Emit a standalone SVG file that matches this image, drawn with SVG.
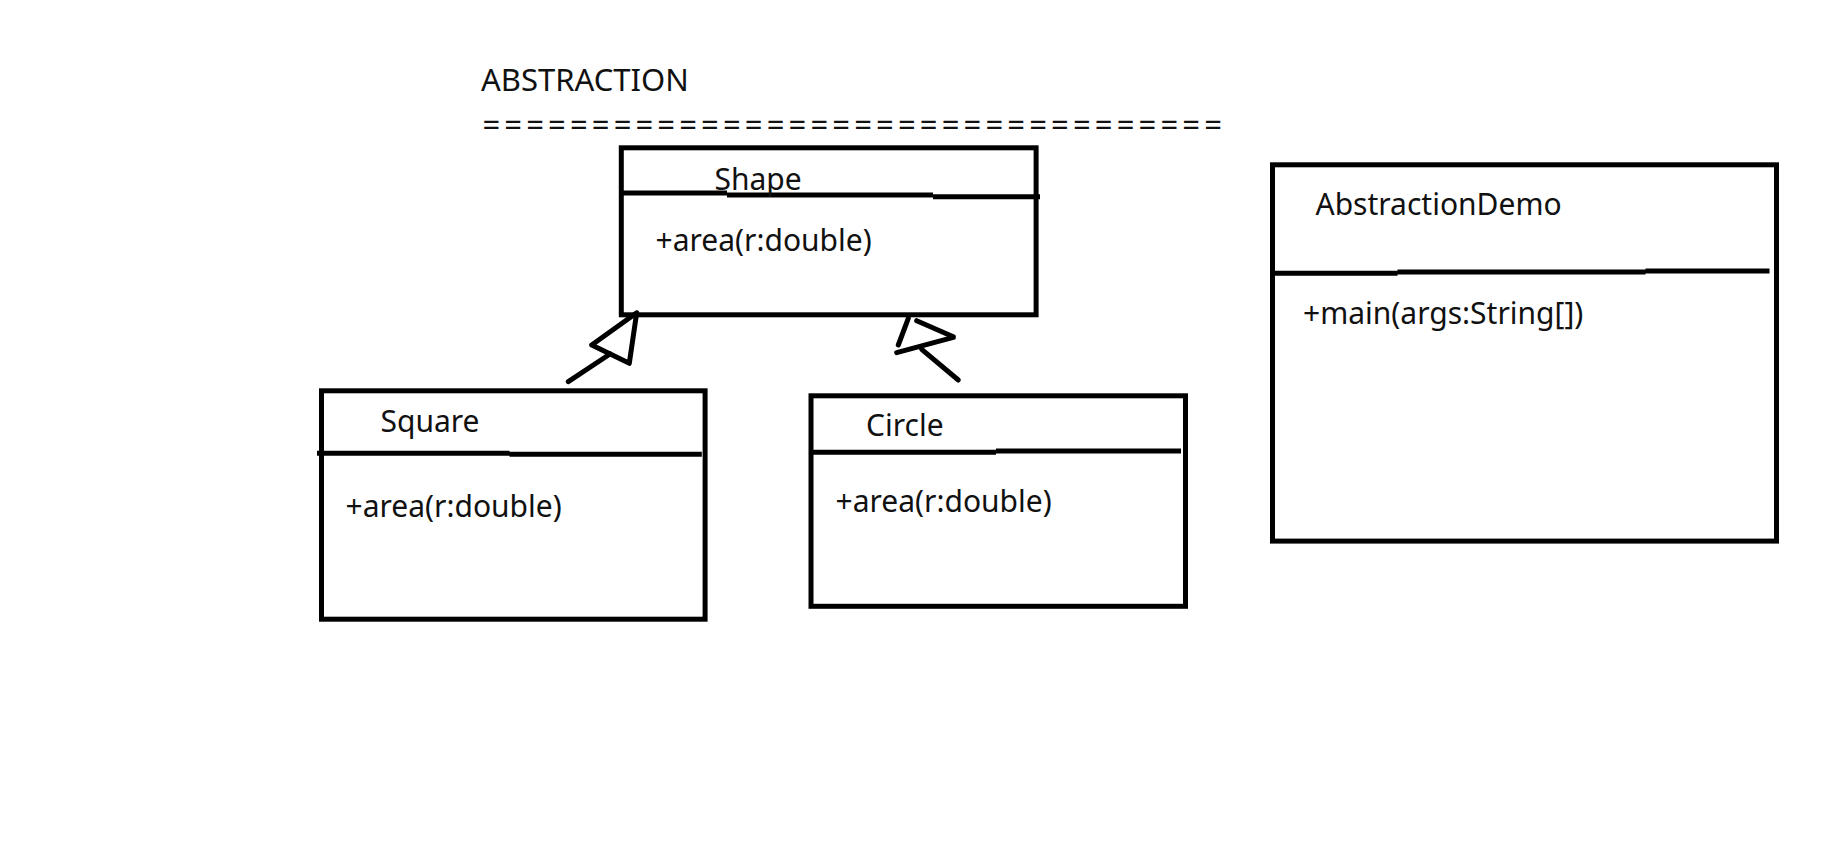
<svg xmlns="http://www.w3.org/2000/svg" width="1831" height="846" viewBox="0 0 1831 846">
<style>
.box{fill:none;stroke:#000;stroke-width:5}
.div{fill:none;stroke:#000;stroke-width:5}
.lbl{font-family:"Noto Sans","Liberation Sans",sans-serif;font-size:30px;fill:#111}
.ttl{font-family:"Noto Sans","Liberation Sans",sans-serif;font-size:31px;fill:#111}
.con{fill:none;stroke:#000;stroke-width:5;stroke-linecap:round;stroke-linejoin:round}
</style>
<rect width="1831" height="846" fill="#fff"/>
<g id="title">
<text class="ttl" x="481" y="90.5">ABSTRACTION</text>
<text class="ttl" x="482.4" y="136" textLength="739.5" lengthAdjust="spacing" fill="#333">==================================</text>
</g>
<g id="shape">
<rect class="box" x="621.3" y="147.8" width="414.8" height="167"/>
<path class="div" d="M619 193H727M727 195H933M933 196.7H1040"/>
<text class="lbl" x="714.5" y="189.5">Shape</text>
<text class="lbl" x="655.5" y="250.5">+area(r:double)</text>
</g>
<g id="square">
<rect class="box" x="321.5" y="390.8" width="383.6" height="228.4"/>
<path class="div" d="M317 453.3H509.5M509.5 454.3H701.8"/>
<text class="lbl" x="380.5" y="431.5">Square</text>
<text class="lbl" x="345.5" y="516.5">+area(r:double)</text>
</g>
<g id="circle">
<rect class="box" x="811" y="395.8" width="374.5" height="210.5"/>
<path class="div" d="M812.6 452.3H996M996 451H1181"/>
<text class="lbl" x="866" y="436">Circle</text>
<text class="lbl" x="835.5" y="512">+area(r:double)</text>
</g>
<g id="abstractionDemo">
<rect class="box" x="1272.5" y="164.8" width="504" height="376.3"/>
<path class="div" d="M1272.8 273.2H1397.5M1397.5 272.1H1645.5M1645.5 271H1769.5"/>
<text class="lbl" x="1315.5" y="214.5">AbstractionDemo</text>
<text class="lbl" x="1303" y="323.7">+main(args:String[])</text>
</g>
<g id="connectors">
<path class="con" d="M636.7 312.7L591.7 345L629.3 363.3Z"/>
<path class="con" d="M568.3 381.7L610 354"/>
<path class="con" d="M908.3 318.3L898.3 345M916.7 320.7L953.3 336.7M896.7 352.7L953.3 337.3M921.7 349.3L958.3 380"/>
</g>
</svg>
